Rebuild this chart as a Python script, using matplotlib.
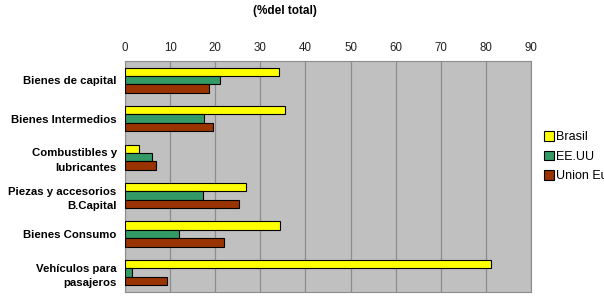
import numpy as np
import matplotlib.pyplot as plt

plt.rcParams['font.family'] = ['Liberation Sans', 'DejaVu Sans']

categorias = ["Bienes de capital", "Bienes Intermedios", "Combustibles y\nlubricantes",
              "Piezas y accesorios\nB.Capital", "Bienes Consumo", "Vehículos para\npasajeros"]
brasil = [34.1, 35.5, 3.1, 26.8, 34.4, 81.2]
eeuu = [21.1, 17.5, 6.0, 17.3, 12.0, 1.5]
union_europea = [18.6, 19.5, 6.9, 25.3, 22.0, 9.3]
series = ["Brasil", "EE.UU", "Union Europea"]
colores = ["#FFFF00", "#339966", "#993300"]

fig = plt.figure(figsize=(6.04, 3.05), dpi=100)
ax = fig.add_axes([0.207, 0.043, 0.672, 0.757])
ax.set_facecolor("#C0C0C0")

y = np.arange(len(categorias))
h = 0.22
for i, (vals, nombre, c) in enumerate(zip([brasil, eeuu, union_europea], series, colores)):
    ax.barh(y + (i - 1) * h, vals, height=h, color=c, edgecolor="black",
            linewidth=0.8, label=nombre, zorder=3)

ax.set_xlim(0, 90)
ax.set_ylim(len(categorias) - 0.5, -0.5)
ax.set_xticks(range(0, 91, 10))
ax.set_yticks(y)
ax.set_yticklabels(categorias, fontweight="bold", fontsize=8.2, linespacing=1.6)
ax.xaxis.tick_top()
ax.tick_params(axis="x", length=0, labelsize=8.3, pad=5, colors="#222222")
ax.tick_params(axis="y", length=0, pad=6)
ax.grid(axis="x", color="#8c8c8c", linewidth=0.9, zorder=0)
for s in ax.spines.values():
    s.set_color("#8c8c8c")

fig.text(0.472, 0.965, "(%del total)", ha="center", va="center", fontsize=8.5, fontweight="bold")

ax.legend(loc="center left", bbox_to_anchor=(1.005, 0.585), frameon=False, fontsize=9,
          handlelength=0.75, handleheight=0.75, handletextpad=0.2, labelspacing=0.6)

fig.savefig("out.png", dpi=100)
